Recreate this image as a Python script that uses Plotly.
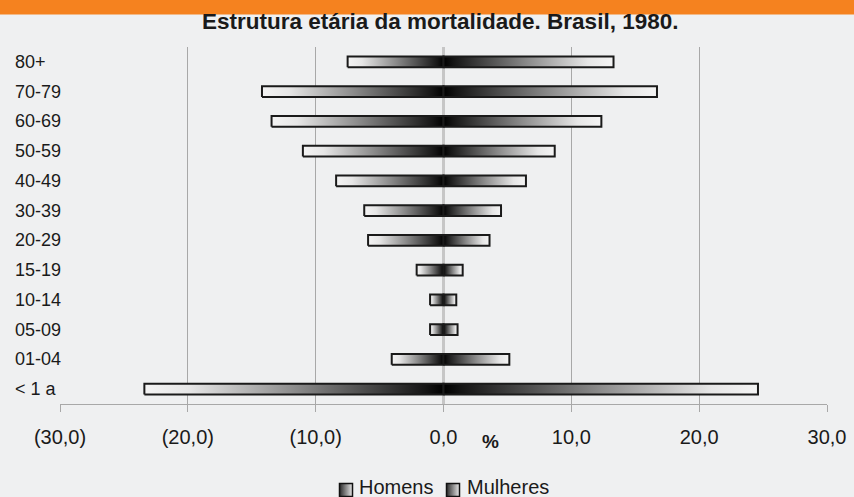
import plotly.graph_objects as go

categories = ["80+", "70-79", "60-69", "50-59", "40-49", "30-39", "20-29",
              "15-19", "10-14", "05-09", "01-04", "< 1 a"]
homens = [-7.5, -14.2, -13.45, -11.0, -8.4, -6.2, -5.9, -2.1, -1.05, -1.05, -4.05, -23.4]
mulheres = [13.3, 16.7, 12.35, 8.7, 6.45, 4.5, 3.6, 1.5, 1.0, 1.1, 5.15, 24.6]
tick_vals = [-30, -20, -10, 0, 10, 20, 30]
tick_text = ["(30,0)", "(20,0)", "(10,0)", "0,0", "10,0", "20,0", "30,0"]
series_names = ["Homens", "Mulheres"]

BG = "#eff0f1"
FONT = "Liberation Sans, Arial, sans-serif"
TXT = "#1a1a1a"
H = 0.18
n = len(categories)

W, HT = 854, 497
ML, MR, MT, MB = 60, 27, 47, 0
PAPER_W, PAPER_H = W - ML - MR, HT - MT - MB
PLOT_BOTTOM = 404      # px of main plot bottom
LEG_TOP = 470          # px of legend strip top


def px_x(p):
    return (p - ML) / PAPER_W


def px_y(p):
    return (HT - MB - p) / PAPER_H


grad_out = [[0.0, "#000000"], [0.06, "#151515"], [0.5, "#8c8c8c"],
            [0.85, "#e6e6e6"], [1.0, "#f4f4f4"]]
grad_in = [[1 - p, c] for p, c in reversed(grad_out)]

fig = go.Figure()

for i, cat in enumerate(categories):
    yc = n - 1 - i
    for val, scale in ((homens[i], grad_in), (mulheres[i], grad_out)):
        lo, hi = min(val, 0), max(val, 0)
        fig.add_trace(go.Scatter(
            x=[lo, hi, hi, lo, lo],
            y=[yc - H, yc - H, yc + H, yc + H, yc - H],
            mode="lines", fill="toself",
            fillgradient=dict(type="horizontal", colorscale=scale, start=lo, stop=hi),
            line=dict(color="#1a1a1a", width=2),
            showlegend=False, hoverinfo="skip"))

# manual legend in a pixel-scaled strip at the bottom
legend_sym_px = [346, 453]
legend_txt_px = [357, 465]
fig.add_trace(go.Scatter(
    x=legend_sym_px, y=[HT - 490] * 2, xaxis="x2", yaxis="y2",
    mode="markers", showlegend=False, hoverinfo="skip",
    marker=dict(symbol="square", size=13, color="#2a2a2a",
                gradient=dict(type="horizontal", color="#e8e8e8"),
                line=dict(color="#111111", width=1.5))))

annotations = []
for name, tx in zip(series_names, legend_txt_px):
    annotations.append(dict(x=tx, xref="x2", y=HT - 487, yref="y2",
                            text=name, showarrow=False, xanchor="left", yanchor="middle",
                            font=dict(family=FONT, size=20, color=TXT)))
for i, cat in enumerate(categories):
    annotations.append(dict(x=px_x(13), xref="paper", y=n - 1 - i, yref="y",
                            text=cat, showarrow=False, xanchor="left", yanchor="middle",
                            font=dict(family=FONT, size=18, color=TXT)))
annotations.append(dict(x=px_x(440), xref="paper", y=px_y(22), yref="paper",
                        text="<b>Estrutura etária da mortalidade. Brasil, 1980.</b>",
                        showarrow=False, xanchor="center", yanchor="middle",
                        font=dict(family=FONT, size=22.5, color=TXT)))
annotations.append(dict(x=3.7, xref="x", y=px_y(441), yref="paper",
                        text="<b>%</b>", showarrow=False, xanchor="center", yanchor="middle",
                        font=dict(family=FONT, size=19, color=TXT)))

fig.update_layout(
    width=W, height=HT,
    margin=dict(l=ML, r=MR, t=MT, b=MB, autoexpand=False),
    paper_bgcolor=BG, plot_bgcolor=BG,
    font=dict(family=FONT, color=TXT),
    showlegend=False,
    annotations=annotations,
    shapes=[dict(type="rect", xref="paper", yref="paper", layer="below",
                 x0=-0.1, x1=1.1, y0=px_y(14.5), y1=1.3,
                 fillcolor="#f5821f", line=dict(width=0))],
    xaxis=dict(domain=[0, 1], anchor="y", range=[-30, 30],
               tickvals=tick_vals, ticktext=tick_text,
               showgrid=True, gridcolor="#a8a8a8", gridwidth=1,
               zeroline=True, zerolinecolor="#c6c6c6", zerolinewidth=3,
               showline=True, linecolor="#a8a8a8", linewidth=1,
               ticks="outside", ticklen=7, tickcolor="#a8a8a8",
               ticklabelstandoff=8,
               tickfont=dict(family=FONT, size=20, color=TXT), fixedrange=True),
    yaxis=dict(domain=[px_y(PLOT_BOTTOM), 1], anchor="x",
               range=[-0.5, n - 0.5], showticklabels=False, showgrid=False,
               zeroline=False, showline=False, fixedrange=True),
    xaxis2=dict(domain=[0, 1], anchor="y2", range=[ML, W - MR], visible=False,
                fixedrange=True),
    yaxis2=dict(domain=[0, px_y(LEG_TOP)], anchor="x2", range=[0, HT - LEG_TOP],
                visible=False, fixedrange=True),
)

fig.write_html("out.html", config={"displayModeBar": False, "staticPlot": True},
               post_script="document.body.style.margin='0';document.body.style.overflow='hidden';")
